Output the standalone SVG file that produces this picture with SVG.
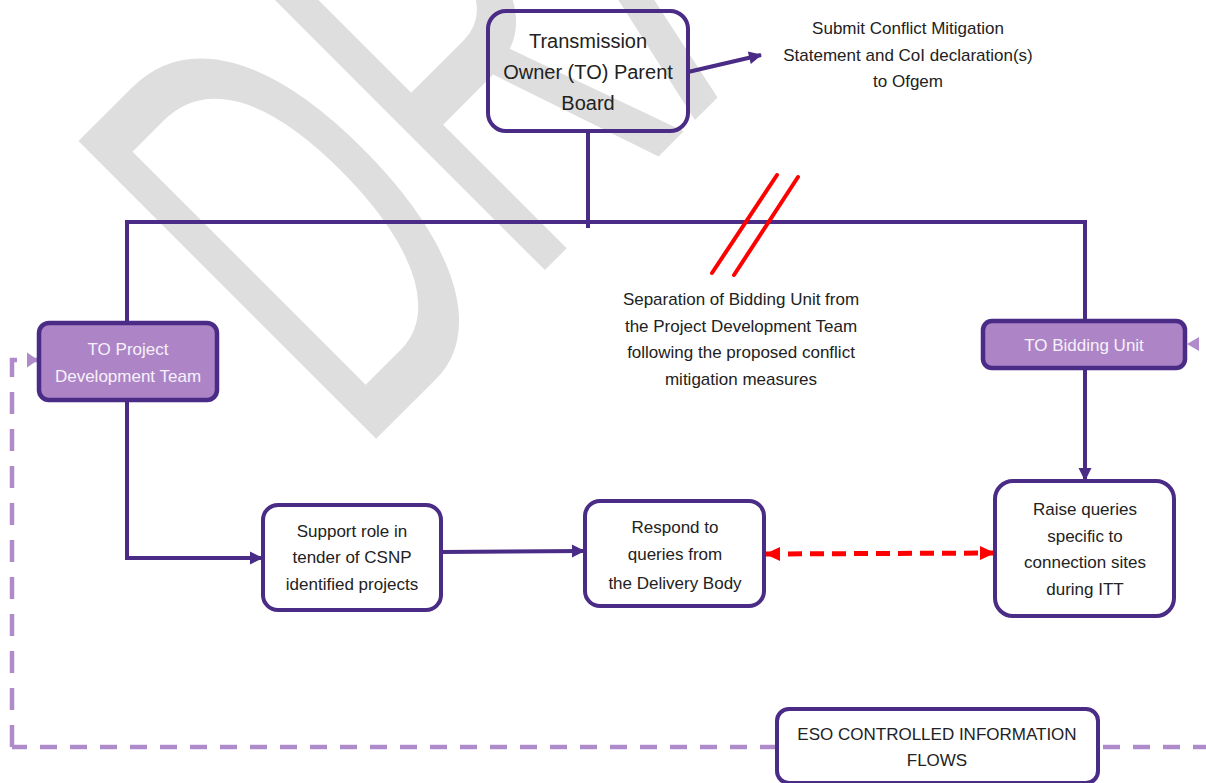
<svg xmlns="http://www.w3.org/2000/svg" width="1206" height="783" viewBox="0 0 1206 783">
  <defs>
    <style>
      .t { font-family: "Liberation Sans", Arial, sans-serif; font-size: 17px; fill: #222; text-anchor: middle; }
      .tl { font-size: 20px; }
      .tw { fill: #f6f1fb; }
      .box { fill: #ffffff; stroke: #4a2b86; stroke-width: 4; }
      .pbox { fill: #ad85c6; stroke: #4a2b86; stroke-width: 4.5; }
      .line { fill: none; stroke: #4a2b86; stroke-width: 4; }
      .red { fill: none; stroke: #ff0000; stroke-width: 4; stroke-linecap: round; }
      .lav { fill: none; stroke: #b08bcb; stroke-width: 4.5; }
      .wm { font-family: "Liberation Sans", Arial, sans-serif; font-size: 612px; fill: #dedede; }
    </style>
    <marker id="ap" markerUnits="userSpaceOnUse" markerWidth="16" markerHeight="16" refX="13" refY="8" orient="auto">
      <path d="M1,1.5 L14,8 L1,14.5 Z" fill="#4a2b86"/>
    </marker>
    <marker id="ar" markerUnits="userSpaceOnUse" markerWidth="18" markerHeight="18" refX="15" refY="9" orient="auto-start-reverse">
      <path d="M1,2 L16,9 L1,16 Z" fill="#ff0000"/>
    </marker>
    <marker id="al" markerUnits="userSpaceOnUse" markerWidth="16" markerHeight="18" refX="12" refY="9" orient="auto">
      <path d="M1,1.5 L12,9 L1,16.5 Z" fill="#b08bcb"/>
    </marker>
  </defs>

  <rect x="0" y="0" width="1206" height="783" fill="#ffffff"/>

  <!-- watermark -->
  <text class="wm" transform="translate(357,458) rotate(-45) scale(0.54,1)">DRAFT</text>

  <g id="connectors">
    <line class="line" x1="688" y1="72" x2="761" y2="55" marker-end="url(#ap)"/>
    <line class="line" x1="588" y1="131" x2="588" y2="228"/>
    <polyline class="line" points="127,323 127,222 1085,222 1085,321"/>
    <polyline class="line" points="127,400 127,558 262,558" marker-end="url(#ap)"/>
    <line class="line" x1="1085" y1="368" x2="1085" y2="480" marker-end="url(#ap)"/>
    <line class="line" x1="441" y1="552" x2="584" y2="551" marker-end="url(#ap)"/>
    <line class="red" x1="712" y1="273" x2="777" y2="175"/>
    <line class="red" x1="734" y1="275" x2="798" y2="177"/>
    <line x1="766" y1="554" x2="994" y2="553" stroke="#ff0000" stroke-width="5" stroke-dasharray="14 8" marker-start="url(#ar)" marker-end="url(#ar)"/>
    <path class="lav" d="M1210,747 H1098" stroke-dasharray="17 13"/>
    <path class="lav" d="M777,747 H12" stroke-dasharray="17 13"/>
    <path class="lav" d="M12,747 V360 H38" stroke-dasharray="22 15" marker-end="url(#al)"/>
    <path d="M1187,344 L1199,337 L1199,351 Z" fill="#b08bcb"/>
  </g>

  <g id="parent-board">
    <rect class="box" x="488" y="11" width="200" height="120" rx="18" fill="none" style="fill:none"/>
    <text class="t tl" x="588" y="48">Transmission</text>
    <text class="t tl" x="588" y="79">Owner (TO) Parent</text>
    <text class="t tl" x="588" y="110">Board</text>
  </g>

  <g id="submit-label">
    <text class="t" x="908" y="34">Submit Conflict Mitigation</text>
    <text class="t" x="908" y="61">Statement and CoI declaration(s)</text>
    <text class="t" x="908" y="87">to Ofgem</text>
  </g>

  <g id="separation-label">
    <text class="t" x="741" y="305">Separation of Bidding Unit from</text>
    <text class="t" x="741" y="332">the Project Development Team</text>
    <text class="t" x="741" y="358">following the proposed conflict</text>
    <text class="t" x="741" y="385">mitigation measures</text>
  </g>

  <g id="project-dev-team">
    <rect class="pbox" x="39" y="323" width="178" height="77" rx="10"/>
    <text class="t tw" x="128" y="355">TO Project</text>
    <text class="t tw" x="128" y="382">Development Team</text>
  </g>

  <g id="bidding-unit">
    <rect class="pbox" x="983" y="321" width="202" height="47" rx="9"/>
    <text class="t tw" x="1084" y="351">TO Bidding Unit</text>
  </g>

  <g id="support-role">
    <rect class="box" x="263" y="505" width="178" height="105" rx="15"/>
    <text class="t" x="352" y="537">Support role in</text>
    <text class="t" x="352" y="563">tender of CSNP</text>
    <text class="t" x="352" y="590">identified projects</text>
  </g>

  <g id="respond">
    <rect class="box" x="585" y="501" width="179" height="105" rx="15"/>
    <text class="t" x="675" y="533">Respond to</text>
    <text class="t" x="675" y="560">queries from</text>
    <text class="t" x="675" y="589">the Delivery Body</text>
  </g>

  <g id="raise-queries">
    <rect class="box" x="995" y="481" width="179" height="135" rx="18"/>
    <text class="t" x="1085" y="515">Raise queries</text>
    <text class="t" x="1085" y="542">specific to</text>
    <text class="t" x="1085" y="568">connection sites</text>
    <text class="t" x="1085" y="595">during ITT</text>
  </g>

  <g id="eso-flows">
    <rect class="box" x="777" y="709" width="321" height="74" rx="12"/>
    <text class="t" x="937" y="740">ESO CONTROLLED INFORMATION</text>
    <text class="t" x="937" y="766">FLOWS</text>
  </g>
</svg>
